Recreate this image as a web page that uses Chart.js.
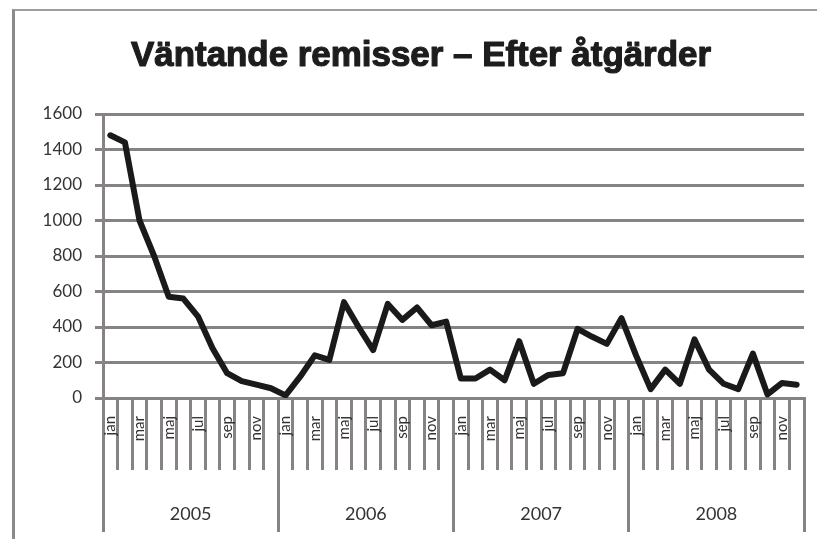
<!DOCTYPE html>
<html>
<head>
<meta charset="utf-8">
<script src="https://cdn.jsdelivr.net/npm/chart.js@4"></script>
<style>
  html, body { margin: 0; padding: 0; background: #fff; }
  #wrap { position: relative; width: 817px; height: 539px; }
  #frame {
    position: absolute; left: 12px; top: 9px; right: 0; bottom: 0;
    border-left: 3px solid #8d898a; border-top: 2px solid #a09c9d;
  }
  canvas { position: absolute; left: 0; top: 0; }
</style>
</head>
<body>
<div id="wrap">
  <div id="frame"></div>
  <canvas id="chart" width="817" height="539"></canvas>
</div>
<script>
const chartTitle = "Väntande remisser – Efter åtgärder";
const years = ["2005", "2006", "2007", "2008"];
const months = ["jan", "feb", "mar", "apr", "maj", "jun", "jul", "aug", "sep", "okt", "nov", "dec"];

// waiting referrals per month
const remisser2005 = [1480, 1440, 1000, 800, 570, 560, 460, 280, 140, 95, 75, 55];
const remisser2006 = [15, 120, 240, 215, 540, 400, 270, 530, 440, 510, 410, 430];
const remisser2007 = [110, 110, 160, 100, 320, 80, 130, 140, 390, 345, 305, 450];
const remisser2008 = [240, 50, 160, 80, 330, 160, 80, 50, 250, 20, 85, 75];

const yTicks = [0, 200, 400, 600, 800, 1000, 1200, 1400, 1600];

const labels = years.flatMap((y) => months.map((m) => m + " " + y));
const values = [...remisser2005, ...remisser2006, ...remisser2007, ...remisser2008];

const gridGray = "#878283";
const textGray = "#333333";
const labelFont = "Lato, 'Open Sans', sans-serif";

// heavy condensed title, squeezed to the width it has in the original
const titlePlugin = {
  id: "condensedTitle",
  afterDraw(chart) {
    const ctx = chart.ctx;
    ctx.save();
    ctx.font = "bold 35px 'Liberation Sans', Arial, sans-serif";
    ctx.fillStyle = "#1d1d1d";
    ctx.strokeStyle = "#1d1d1d";
    ctx.lineWidth = 1.2;
    ctx.lineJoin = "round";
    ctx.textAlign = "center";
    ctx.textBaseline = "alphabetic";
    const w = ctx.measureText(chartTitle).width;
    ctx.translate(421, 66);
    ctx.scale(580 / w, 1);
    ctx.fillText(chartTitle, 0, 0);
    ctx.strokeText(chartTitle, 0, 0);
    ctx.restore();
  },
};

new Chart(document.getElementById("chart"), {
  type: "line",
  data: {
    labels: labels,
    datasets: [
      {
        data: values,
        borderColor: "#1a1a1a",
        borderWidth: 6,
        pointRadius: 0,
        tension: 0,
        borderJoinStyle: "round",
        borderCapStyle: "round",
      },
    ],
  },
  plugins: [titlePlugin],
  options: {
    responsive: false,
    animation: false,
    layout: { padding: { left: 43, right: 13, top: 114, bottom: 7 } },
    plugins: {
      legend: { display: false },
      tooltip: { enabled: false },
      title: { display: false },
    },
    scales: {
      y: {
        min: 0,
        max: 1600,
        afterBuildTicks: (axis) => {
          axis.ticks = yTicks.map((v) => ({ value: v }));
        },
        afterFit: (axis) => {
          axis.width = 60;
        },
        grid: { color: gridGray, lineWidth: 3, tickLength: 8 },
        border: { display: true, color: gridGray, width: 3 },
        ticks: {
          color: textGray,
          padding: 13,
          font: { family: labelFont, size: 17 },
          callback: (v) => String(v),
        },
      },
      x: {
        position: "bottom",
        offset: true,
        afterFit: (axis) => {
          axis.height = 72;
        },
        grid: {
          offset: true,
          drawOnChartArea: false,
          color: gridGray,
          lineWidth: 3,
          tickLength: 72,
        },
        border: { display: true, color: gridGray, width: 3 },
        ticks: {
          autoSkip: false,
          minRotation: 90,
          maxRotation: 90,
          padding: -54,
          color: textGray,
          font: { family: labelFont, size: 15 },
          callback: (v, i) => (i % 2 === 0 ? months[i % 12] : ""),
        },
      },
      years: {
        type: "category",
        labels: years,
        position: "bottom",
        offset: true,
        afterFit: (axis) => {
          axis.height = 62;
        },
        grid: {
          offset: true,
          drawOnChartArea: false,
          color: gridGray,
          lineWidth: 3,
          tickLength: 62,
        },
        border: { display: false },
        ticks: {
          padding: -29,
          color: textGray,
          font: { family: labelFont, size: 18 },
        },
      },
    },
  },
});
</script>
</body>
</html>
